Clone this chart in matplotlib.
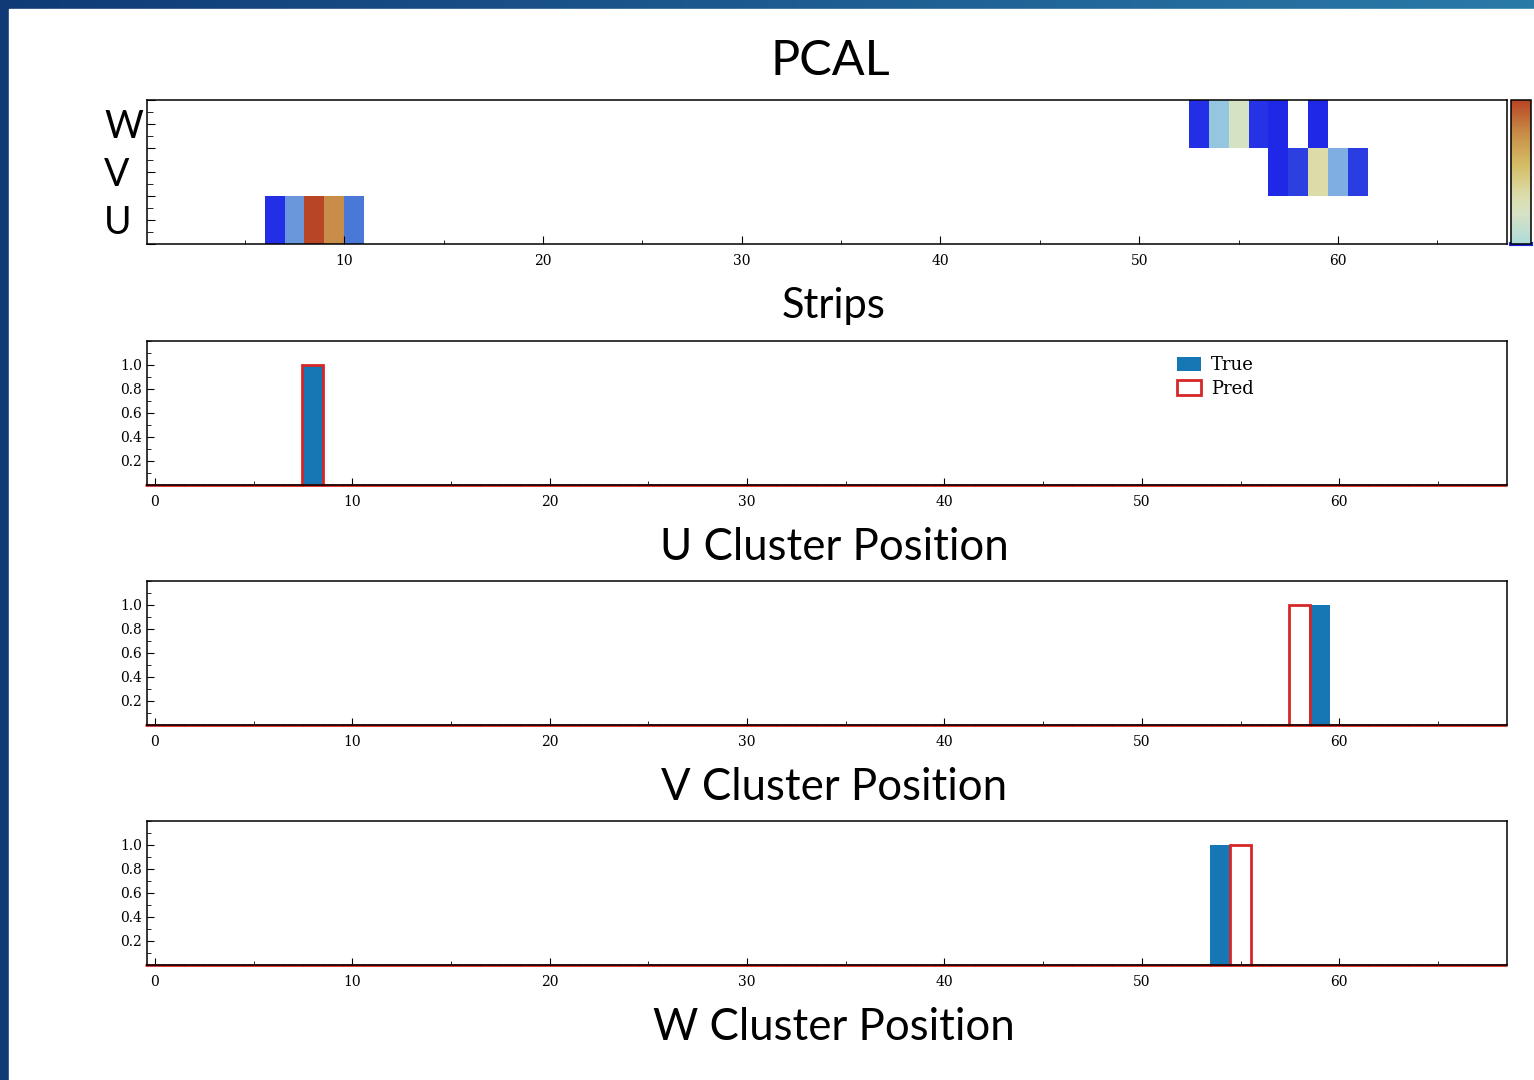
import numpy as np
import matplotlib
matplotlib.use('Agg')
import matplotlib.pyplot as plt
from matplotlib.colors import LinearSegmentedColormap, Normalize, to_rgb
from matplotlib.patches import Rectangle, Patch
from matplotlib.ticker import MultipleLocator, FixedLocator
import matplotlib.cm as cm

# ---------------- data ----------------
row_labels = ['U', 'V', 'W']
u_strips = [6, 7, 8, 9, 10]
u_energy = [0.02, 0.27, 1.0, 0.87, 0.18]
v_strips = [57, 58, 59, 60, 61]
v_energy = [0.0, 0.07, 0.63, 0.33, 0.06]
w_strips = [53, 54, 55, 56, 57, 59]
w_energy = [0.02, 0.40, 0.56, 0.03, 0.0, 0.0]

n_strips = 68
n_positions = 69
u_true_pos, u_pred_pos = 8, 8
v_true_pos, v_pred_pos = 59, 58
w_true_pos, w_pred_pos = 54, 55

heat_xticks = [10, 20, 30, 40, 50, 60]
pos_xticks = [0, 10, 20, 30, 40, 50, 60]
pos_yticks = [0.2, 0.4, 0.6, 0.8, 1.0]

cmap_nodes = [(0.0, '#2028e8'), (0.08, '#2e45e0'), (0.18, '#4a78d6'),
              (0.27, '#6a96dc'), (0.33, '#7eaee2'), (0.40, '#94c6df'),
              (0.45, '#b0dcd8'), (0.56, '#d6e2c4'), (0.63, '#dcdcaa'),
              (0.75, '#d4bc64'), (0.87, '#c88d48'), (1.0, '#b84525')]

# ---------------- style ----------------
W, H = 1534, 1080
plt.rcParams['font.family'] = ['DejaVu Serif']
plt.rcParams['axes.linewidth'] = 1.1
sans = ['Lato', 'DejaVu Sans']

fig = plt.figure(figsize=(W / 100, H / 100), dpi=100)


def rect(l, t, r, b):
    return [l / W, 1 - b / H, (r - l) / W, (b - t) / H]


# background slide border (blue gradient) + white page
bg = fig.add_axes([0, 0, 1, 1], zorder=-10)
c0, c1 = np.array(to_rgb('#0f3a76')), np.array(to_rgb('#2a7aa8'))
gx = np.linspace(0, 1, 256)[None, :, None]
gy = np.linspace(0, 1, 64)[:, None, None]
grad = c0 + (c1 - c0) * gx * (1 - 0.6 * gy)
bg.imshow(grad, aspect='auto', extent=[0, 1, 0, 1], origin='upper')
bg.add_patch(Rectangle((9 / W, 0), 1, 1 - 9 / H, color='white', transform=bg.transAxes))
bg.set_xlim(0, 1)
bg.set_ylim(0, 1)
bg.axis('off')

cmap = LinearSegmentedColormap.from_list('pcal', cmap_nodes)
norm = Normalize(0, 1)

# ---------------- heatmap ----------------
ax0 = fig.add_axes(rect(147, 100, 1507, 244))
rows = [(u_strips, u_energy, 0.0), (v_strips, v_energy, 0.5), (w_strips, w_energy, 0.5)]
for r, (strips, energy, off) in enumerate(rows):
    vals = np.full(n_strips, np.nan)
    vals[np.array(strips)] = energy
    edges = np.arange(n_strips + 1) - off
    ax0.pcolormesh(edges, [r, r + 1], np.ma.masked_invalid(vals[None, :]),
                   cmap=cmap, norm=norm, shading='flat')
ax0.set_xlim(0.08, 68.5)
ax0.set_ylim(0, 3)
ax0.xaxis.set_major_locator(FixedLocator(heat_xticks))
ax0.xaxis.set_minor_locator(MultipleLocator(5))
ax0.yaxis.set_major_locator(FixedLocator([0, 0.5, 1, 1.5, 2, 2.5, 3]))
ax0.yaxis.set_minor_locator(MultipleLocator(0.25))
ax0.set_yticklabels(['', row_labels[0], '', row_labels[1], '', row_labels[2], ''],
                    family=sans, fontsize=27, ha='left')
ax0.tick_params(axis='x', which='major', direction='in', length=6, labelsize=10, pad=7)
ax0.tick_params(axis='x', which='minor', direction='in', length=3)
ax0.tick_params(axis='y', which='major', direction='in', length=6, pad=31)
ax0.tick_params(axis='y', which='minor', direction='in', length=4)

cax = fig.add_axes(rect(1511, 100, 1531, 244))
cb = fig.colorbar(cm.ScalarMappable(norm=norm, cmap=cmap), cax=cax)
cb.set_ticks([])
cax.set_ylim(0.44, 1.0)
cax.axhline(0.44, color='#2028e8', lw=3, clip_on=False, zorder=0)

# ---------------- cluster position plots ----------------
x = np.arange(n_positions)
panels = [(341, 485, u_true_pos, u_pred_pos, 'U Cluster Position'),
          (581, 725, v_true_pos, v_pred_pos, 'V Cluster Position'),
          (821, 965, w_true_pos, w_pred_pos, 'W Cluster Position')]
for i, (t, b, tp, pp, lab) in enumerate(panels):
    ax = fig.add_axes(rect(147, t, 1507, b))
    true_h = np.zeros(n_positions)
    true_h[tp] = 1.0
    pred_h = np.zeros(n_positions)
    pred_h[pp] = 1.0
    ax.bar(x, true_h, width=1.05, color='#1777b4', label='True', zorder=2)
    ax.bar(x, pred_h, width=1.05, fill=False, edgecolor='#d62728', linewidth=2.0,
           label='Pred', zorder=2.3, clip_on=False)
    ax.set_xlim(-0.4, 68.5)
    ax.set_ylim(0, 1.2)
    ax.xaxis.set_major_locator(FixedLocator(pos_xticks))
    ax.xaxis.set_minor_locator(MultipleLocator(5))
    ax.yaxis.set_major_locator(FixedLocator(pos_yticks))
    ax.yaxis.set_minor_locator(MultipleLocator(0.1))
    ax.tick_params(which='major', direction='in', length=5, labelsize=10)
    ax.tick_params(which='minor', direction='in', length=3)
    ax.tick_params(axis='x', pad=7)
    if i == 0:
        ax.legend(handles=[Patch(facecolor='#1777b4', label='True'),
                           Patch(facecolor='none', edgecolor='#d62728', linewidth=2.0, label='Pred')],
                  loc='upper left', bbox_to_anchor=(0.752, 0.945), frameon=False,
                  fontsize=13, handlelength=1.35, handleheight=0.85,
                  handletextpad=0.55, labelspacing=0.3, borderaxespad=0)
    fig.text(834 / W, 1 - (b + 62) / H, lab, family=sans, fontsize=31.5,
             ha='center', va='center')

fig.text(830 / W, 1 - 61 / H, 'PCAL', family=sans, fontsize=35, ha='center', va='center')
fig.text(834 / W, 1 - 306 / H, 'Strips', family=sans, fontsize=30, ha='center', va='center')

fig.savefig('out.png', dpi=100)
